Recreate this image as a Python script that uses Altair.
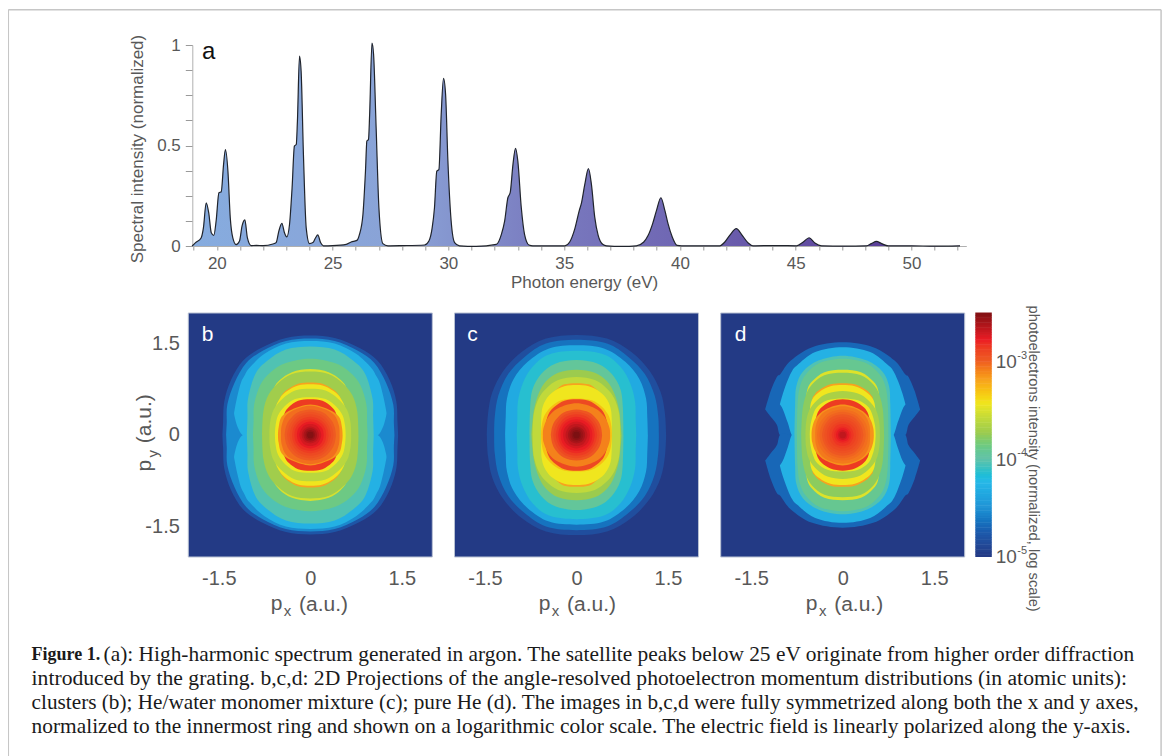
import altair as alt
import pandas as pd

# ---------- panel a: spectrum ----------
EV = [18.93,19.08,19.32,19.42,19.54,19.65,19.76,19.87,19.97,20.09,20.19,20.29,20.37,20.48,20.58,20.69,20.83,20.98,21.09,21.21,21.32,21.48,21.7,22.0,22.42,22.56,22.68,22.81,22.92,23.02,23.14,23.25,23.35,23.43,23.48,23.57,23.64,23.74,23.86,24.0,24.15,24.26,24.36,24.48,24.6,25.0,25.59,25.8,26.05,26.16,26.31,26.42,26.48,26.55,26.6,26.7,26.77,26.88,27.0,27.17,27.39,28.0,28.97,29.16,29.3,29.4,29.5,29.59,29.69,29.79,29.88,29.98,30.12,30.27,30.48,31.2,32.07,32.29,32.43,32.57,32.67,32.79,32.9,33.0,33.15,33.29,33.48,33.65,34.3,35.03,35.24,35.46,35.65,35.75,35.89,36.05,36.18,36.32,36.47,36.68,36.83,37.5,38.12,38.44,38.63,38.82,38.99,39.18,39.35,39.49,39.67,39.88,40.07,41.0,41.72,41.94,42.15,42.44,42.66,42.95,43.16,44.1,45.04,45.33,45.58,45.83,46.12,47.1,48.06,48.27,48.49,48.71,49.0,50.0,51.0,52.1]
INT = [0,.017,.04,.09,.215,.165,.066,.053,.125,.265,.27,.405,.48,.37,.14,.04,.007,.025,.1,.13,.04,.002,.003,.002,.01,.017,.075,.113,.066,.045,.108,.29,.497,.505,.62,.945,.87,.455,.09,.012,.017,.04,.055,.017,.001,.002,.008,.02,.028,.058,.157,.373,.522,.53,.655,1.01,.953,.589,.19,.012,.001,.002,.005,.025,.09,.19,.373,.38,.655,.834,.755,.423,.124,.017,.001,-.002,.008,.058,.124,.24,.265,.406,.486,.423,.19,.058,.005,.001,.001,.001,.02,.085,.175,.215,.305,.385,.305,.145,.053,.007,.001,-.002,.001,.02,.053,.11,.177,.24,.177,.11,.045,.003,.001,.001,.001,.02,.053,.086,.058,.015,.001,.002,.001,.02,.041,.015,.001,-.001,.001,.012,.023,.012,.001,.001,-.001,.001]
EV_TICKS = list(range(19, 53))
INT_TICKS = [0,.125,.25,.375,.5,.625,.75,.875,1]

# ---------- colour scale (log10 intensity) ----------
CB_LEVELS = [-5,-4.75,-4.5,-4.24,-4.0,-3.74,-3.44,-3.2,-3.0,-2.79,-2.5]
CB_COLORS = ["#233a85","#1b5cae","#2295d6","#29b9e8","#64c2a6","#9ccb4e","#f0e61e","#f7a31e","#ee5b22","#ec1c24","#7c1012"]
CB_BINS = [-5+i*0.025 for i in range(100)]
CB_EXP = [-5,-4,-3]

# ---------- panels b, c, d: contours, outermost first ----------
BACK = [(0,2.0),(2.0,2.0)]
R42 = [(0,.42),(.21,.37),(.34,.25),(.4,.13),(.42,0)]
R38 = [(0,.38),(.19,.33),(.3,.23),(.36,.11),(.38,0)]
R34 = [(0,.34),(.17,.3),(.27,.2),(.32,.1),(.34,0)]
R30 = [(0,.3),(.15,.26),(.24,.18),(.285,.09),(.3,0)]
R26 = [(0,.26),(.13,.23),(.21,.16),(.25,.08),(.26,0)]
R22 = [(0,.22),(.11,.19),(.18,.13),(.21,.07),(.22,0)]
R18 = [(0,.18),(.09,.16),(.14,.11),(.17,.05),(.18,0)]
R14 = [(0,.14),(.07,.12),(.11,.085),(.135,.04),(.14,0)]
R11 = [(0,.11),(.06,.095),(.09,.066),(.105,.033),(.11,0)]
R08 = [(0,.08),(.04,.07),(.065,.048),(.08,0)]
R05 = [(0,.055),(.03,.048),(.045,.033),(.055,0)]

PANEL_B = [
 (-5,BACK),
 (-4.8,[(0,1.63),(.4,1.59),(.8,1.43),(1.1,1.22),(1.3,.9),(1.41,.55),(1.43,.2),(1.44,0)]),
 (-4.55,[(0,1.58),(.4,1.54),(.78,1.38),(1.05,1.18),(1.24,.86),(1.36,.5),(1.37,.2),(1.38,0)]),
 (-4.3,[(0,1.54),(.4,1.5),(.75,1.33),(1.0,1.1,0),(1.08,.97,0),(1.14,.85,.03),(1.2,.62,.15),(1.24,.42,.3),(1.25,.36,.36)]),
 (-4.05,[(0,1.45),(.4,1.4),(.7,1.22),(.9,1.0),(1.02,.6),(1.03,.3),(1.04,0)]),
 (-3.88,[(0,1.25),(.4,1.18),(.65,1.03),(.82,.82),(.92,.5),(.93,.2),(.94,0)]),
 (-3.52,[(0,1.08),(.3,1.03),(.5,.9),(.6,.76),(.66,.5),(.67,0)]),
 (-3.72,[(0,1.04),(.3,1.0),(.53,.85),(.69,.65),(.77,.38),(.79,0)]),
 (-3.2,[(0,.86),(.2,.84),(.38,.74),(.46,.66),(.5,.55),(.51,0)]),
 (-3.44,[(0,.83),(.2,.81),(.38,.72),(.5,.6),(.58,.4),(.6,0)]),
 (-3.62,[(0,.76),(.25,.73),(.45,.6),(.6,.42),(.66,.2),(.67,0)]),
 (-3.44,[(0,.62),(.25,.59),(.42,.47),(.53,.32),(.57,.15),(.58,0)]),
 (-2.87,[(0,.585),(.2,.56),(.35,.46),(.42,.36),(.45,.2),(.46,0)]),
 (-3.15,[(0,.5),(.3,.42),(.47,.3),(.52,.12),(.53,0)]),
 (-3.05,[(0,.48),(.25,.42),(.4,.32),(.47,.15),(.48,0)]),
 (-3.0,R42),(-2.96,R38),(-2.92,R34),(-2.875,R30),(-2.83,R26),(-2.78,R22),(-2.73,R18),(-2.68,R14),(-2.62,R11),(-2.57,R08),(-2.52,R05),
]
PANEL_C = [
 (-5,BACK),
 (-4.85,[(0,1.64),(.5,1.58),(.9,1.36),(1.2,1.05),(1.38,.7),(1.45,.35),(1.47,0)]),
 (-4.65,[(0,1.56),(.5,1.5),(.85,1.28),(1.12,1.0),(1.28,.65),(1.34,.3),(1.35,0)]),
 (-4.35,[(0,1.47),(.45,1.42),(.8,1.2),(1.03,.92),(1.14,.6),(1.16,.3),(1.17,0)]),
 (-4.15,[(0,1.38),(.45,1.32),(.72,1.12),(.88,.85),(.96,.55),(.97,.25),(.98,0)]),
 (-3.95,[(0,1.23),(.35,1.17),(.58,1.0),(.72,.75),(.76,.45),(.77,0)]),
 (-3.74,[(0,1.07),(.3,1.02),(.5,.88),(.62,.68),(.7,.4),(.74,0)]),
 (-3.6,[(0,.95),(.3,.9),(.5,.76),(.62,.6),(.7,.35),(.72,0)]),
 (-3.2,[(0,.85),(.2,.83),(.3,.77),(.36,.7),(.4,.55),(.41,0)]),
 (-3.44,[(0,.82),(.2,.8),(.38,.71),(.5,.58),(.57,.38),(.58,0)]),
 (-3.3,[(0,.6),(.25,.57),(.42,.46),(.53,.31),(.57,.15),(.58,0)]),
 (-2.92,[(0,.585),(.2,.56),(.35,.47),(.45,.36),(.5,.2),(.51,0)]),
 (-3.1,[(0,.52),(.3,.44),(.46,.3),(.54,.12),(.55,0)]),
 (-2.97,R42),(-2.92,R38),(-2.87,R34),(-2.82,R30),(-2.78,R26),(-2.73,R22),(-2.68,R18),(-2.62,R14),(-2.58,R11),(-2.54,R08),(-2.5,R05),
]
PANEL_D = [
 (-5,BACK),
 (-4.7,[(0,1.52),(.5,1.44),(.85,1.22),(1.02,1.0),(1.08,.95,.17),(1.18,.72,.3),(1.27,.42,.42)]),
 (-4.3,[(0,1.44),(.45,1.36),(.75,1.14),(.83,1.05),(.9,.9,.2),(.98,.68,.42),(1.03,.5,.5)]),
 (-4.05,[(0,1.3),(.4,1.22),(.65,1.04),(.76,.8),(.78,.5),(.79,0)]),
 (-3.92,[(0,1.25),(.38,1.18),(.6,1.0),(.7,.8),(.74,.5),(.75,0)]),
 (-3.5,[(0,1.07),(.3,1.03),(.5,.88),(.58,.74),(.6,.5),(.61,0)]),
 (-3.78,[(0,1.02),(.3,.98),(.5,.83),(.6,.66),(.66,.4),(.68,0)]),
 (-3.2,[(0,.85),(.2,.83),(.38,.74),(.46,.66),(.5,.55),(.51,0)]),
 (-3.44,[(0,.82),(.2,.8),(.38,.71),(.5,.58),(.54,.38),(.55,0)]),
 (-3.68,[(0,.72),(.25,.68),(.42,.57),(.55,.4),(.6,.2),(.61,0)]),
 (-3.44,[(0,.6),(.25,.57),(.42,.46),(.49,.32),(.53,.15),(.54,0)]),
 (-2.87,[(0,.585),(.2,.55),(.35,.45),(.42,.34),(.45,.18),(.46,0)]),
 (-3.15,[(0,.5),(.28,.42),(.44,.28),(.5,.12),(.51,0)]),
 (-3.08,[(0,.47),(.25,.41),(.38,.3),(.44,.15),(.45,0)]),
 (-3.05,R42),(-3.02,R38),(-2.98,R34),(-2.95,R30),(-2.92,R26),(-2.89,R22),(-2.85,R18),(-2.82,R14),(-2.78,R11),(-2.73,R08),(-2.68,R05),
]

CAP_BOLD = "Figure 1."
CAP_L1 = "(a): High-harmonic spectrum generated in argon. The satellite peaks below 25 eV originate from higher order diffraction"
CAP_L2 = "introduced by the grating. b,c,d: 2D Projections of the angle-resolved photoelectron momentum distributions (in atomic units):"
CAP_L3 = "clusters (b); He/water monomer mixture (c); pure He (d). The images in b,c,d were fully symmetrized along both the x and y axes,"
CAP_L4 = "normalized to the innermost ring and shown on a logarithmic color scale. The electric field is linearly polarized along the y-axis."

SANS = "Liberation Sans"
GREY = "#585858"
ONE = pd.DataFrame({"k": [0]})
cscale = alt.Scale(domain=CB_LEVELS, range=CB_COLORS, clamp=True)

A_ORG = (192.7, 44.0)
B_ORG = (188.7, 312.3)
C_ORG = (455.0, 312.3)
D_ORG = (721.0, 312.3)
CB_ORG = (977.0, 312.3)


def text(org, s, px, py, size=17, color=GREY, font=SANS, angle=0, align="center", weight="normal"):
    m = alt.Chart(ONE).mark_text(text=s, font=font, fontSize=size, color=color, angle=angle,
                                 align=align, baseline="middle", fontWeight=weight)
    return m.encode(x=alt.value(px - org[0]), y=alt.value(py - org[1]))


def contour_rows(contours):
    rows = []
    for i, (val, pts) in enumerate(contours):
        pts = [(p[0], p[1], p[2] if len(p) > 2 else 0) for p in pts]
        split = any(p[2] > 0 for p in pts)
        full = [(-x, a, b) for x, a, b in reversed(pts) if x > 0] + pts
        if split:
            for x, a, b in full:
                b2 = b if b > 0 else -0.01
                rows.append(dict(cid=f"c{i:03d}u", v=val, x=x, y=a, y2=b2))
            for x, a, b in full:
                b2 = b if b > 0 else -0.01
                rows.append(dict(cid=f"c{i:03d}l", v=val, x=x, y=-a, y2=-b2))
        else:
            for x, a, b in full:
                rows.append(dict(cid=f"c{i:03d}", v=val, x=x, y=a, y2=-a))
    return pd.DataFrame(rows)


LABELS = "datum.value == 0 ? '0' : (datum.value < 0 ? '-1.5' : '1.5')"


def heat(contours, show_y):
    y_axis = alt.Axis(values=[-1.5, 0, 1.5], labelExpr=LABELS, title=None, domain=False, ticks=False,
                      grid=False, labelFontSize=20, labelFont=SANS, labelColor=GREY, labelPadding=9) if show_y else None
    x_axis = alt.Axis(values=[-1.5, 0, 1.5], labelExpr=LABELS, title=None, domain=False, ticks=False,
                      grid=False, labelFontSize=20, labelFont=SANS, labelColor=GREY, labelPadding=12, labelAngle=0)
    return alt.Chart(contour_rows(contours)).mark_area(interpolate="cardinal").encode(
        x=alt.X("x:Q", scale=alt.Scale(domain=[-2, 2], nice=False), axis=x_axis),
        y=alt.Y("y:Q", scale=alt.Scale(domain=[-2, 2], nice=False), axis=y_axis, stack=None),
        y2="y2:Q",
        detail="cid:N",
        color=alt.Color("v:Q", scale=cscale, legend=None),
    )


def edge():
    return alt.Chart(ONE).mark_rect(filled=False, stroke="#b9c1d3", strokeWidth=1).encode(
        x=alt.value(0), x2=alt.value(244), y=alt.value(0), y2=alt.value(244))


def px_title(org, cx):
    return [text(org, "p", cx - 32, 603, 21), text(org, "x", cx - 21, 610, 15),
            text(org, "(a.u.)", cx + 15, 604, 21)]


# panel a
spec = pd.DataFrame({"ev": EV, "i": INT})
xa_axis = alt.Axis(values=EV_TICKS, labelExpr="datum.value % 5 == 0 ? datum.label : ''", title=None, grid=False,
                   tickSize=4, tickColor="#9a9a9a", domainColor="#b0b0b0", labelFontSize=17, labelFont=SANS,
                   labelColor=GREY, labelPadding=5, labelOverlap=False, labelAngle=0)
ya_axis = alt.Axis(values=INT_TICKS, labelExpr="datum.value == 0 ? '0' : (datum.value == 0.5 ? '0.5' : (datum.value == 1 ? '1' : ''))",
                   title=None, grid=False, tickSize=7, tickColor="#9a9a9a", domainColor="#b0b0b0", labelFontSize=17,
                   labelFont=SANS, labelColor=GREY, labelPadding=5, labelOverlap=False)
xa = alt.X("ev:Q", scale=alt.Scale(domain=[18.94, 52.37], nice=False), axis=xa_axis)
ya = alt.Y("i:Q", scale=alt.Scale(domain=[0, 1], nice=False), axis=ya_axis, stack=None)
grad = alt.Gradient(gradient="linear", x1=0, x2=1, y1=0, y2=0,
                    stops=[alt.GradientStop(color="#86acdf", offset=0), alt.GradientStop(color="#8aa2d6", offset=0.28),
                           alt.GradientStop(color="#7a7cc0", offset=0.45), alt.GradientStop(color="#7068b4", offset=0.62),
                           alt.GradientStop(color="#5a3f98", offset=0.9), alt.GradientStop(color="#553a90", offset=1)])
panel_a = alt.layer(
    alt.Chart(spec).mark_area(color=grad, interpolate="monotone").encode(x=xa, y=ya),
    alt.Chart(spec).mark_line(color="#20242c", strokeWidth=1.2, interpolate="monotone").encode(x=xa, y=ya),
    text(A_ORG, "a", 209, 51, 24, "#111111"),
    text(A_ORG, "Spectral intensity (normalized)", 138, 148, 17, angle=270),
    text(A_ORG, "Photon energy (eV)", 585, 282, 17),
).properties(width=774, height=201)

FRAME_R = 1161.5
frame = [
    alt.Chart(ONE).mark_rule(color="#c6c6c6", strokeWidth=1.5).encode(x=alt.value(8.7 - B_ORG[0]), y=alt.value(9 - B_ORG[1]), y2=alt.value(770 - B_ORG[1])),
    alt.Chart(ONE).mark_rule(color="#c6c6c6", strokeWidth=1.5).encode(x=alt.value(FRAME_R - B_ORG[0]), y=alt.value(9 - B_ORG[1]), y2=alt.value(770 - B_ORG[1])),
    alt.Chart(ONE).mark_rule(color="#c6c6c6", strokeWidth=1.5).encode(x=alt.value(8.7 - B_ORG[0]), x2=alt.value(FRAME_R - B_ORG[0]), y=alt.value(9 - B_ORG[1])),
]
SERIF = "Liberation Serif"
caption = [
    text(B_ORG, CAP_BOLD, 32, 654, 18, "#1a1a1a", SERIF, align="left", weight="bold"),
    text(B_ORG, CAP_L1, 104, 654, 21.4, "#1a1a1a", SERIF, align="left"),
    text(B_ORG, CAP_L2, 32, 678, 21.65, "#1a1a1a", SERIF, align="left"),
    text(B_ORG, CAP_L3, 32, 702, 21.25, "#1a1a1a", SERIF, align="left"),
    text(B_ORG, CAP_L4, 32, 726, 21.4, "#1a1a1a", SERIF, align="left"),
]
py_title = [
    text(B_ORG, "p", 145, 465, 21, angle=270),
    text(B_ORG, "y", 153, 453, 15, angle=270),
    text(B_ORG, "(a.u.)", 145, 418, 21, angle=270),
]
panel_b = alt.layer(heat(PANEL_B, True), edge(), text(B_ORG, "b", 208, 334, 21, "#ffffff"),
                    *px_title(B_ORG, 309), *py_title, *frame, *caption).properties(width=244, height=244)
panel_c = alt.layer(heat(PANEL_C, False), edge(), text(C_ORG, "c", 473, 334, 21, "#ffffff"),
                    *px_title(C_ORG, 577)).properties(width=244, height=244)
panel_d = alt.layer(heat(PANEL_D, False), edge(), text(D_ORG, "d", 741, 334, 21, "#ffffff"),
                    *px_title(D_ORG, 844)).properties(width=244, height=244)

cb_df = pd.DataFrame({"v": CB_BINS, "v2": [b + 0.03 for b in CB_BINS]})
exp_df = pd.DataFrame({"v": CB_EXP, "t": [str(e) for e in CB_EXP]})
cb_y = alt.Y("v:Q", scale=alt.Scale(domain=[-5, -2.5], nice=False),
             axis=alt.Axis(orient="right", values=CB_EXP, labelExpr="'10'", title=None, domain=False, ticks=False, grid=False,
                           labelFontSize=19, labelFont=SANS, labelColor=GREY, labelPadding=4))
colorbar = alt.layer(
    alt.Chart(cb_df).mark_rect().encode(x=alt.value(0), x2=alt.value(16.5), y=cb_y, y2="v2:Q",
                                        color=alt.Color("v:Q", scale=cscale, legend=None)),
    alt.Chart(exp_df).mark_text(font=SANS, fontSize=11, color=GREY, align="left", dy=-6).encode(
        x=alt.value(42), y=alt.Y("v:Q"), text="t:N"),
    text(CB_ORG, "photoelectrons intensity (normalized, log scale)", 1035, 458, 14.7, angle=90),
).properties(width=16, height=244)


def spacer(w, h):
    return alt.Chart(ONE).mark_point(opacity=0).encode(x=alt.value(0)).properties(width=w, height=h)


top_row = alt.hconcat(spacer(4, 201), panel_a, spacing=0, bounds="flush")
bottom_row = alt.hconcat(panel_b, spacer(1, 244), panel_c, spacer(1, 244), panel_d, colorbar, spacing=10.6, bounds="flush")
chart = alt.vconcat(top_row, bottom_row, spacing=268, bounds="flush").properties(
    padding={"left": -0.7, "top": 0, "right": 0, "bottom": 0}, background="#ffffff").configure_view(stroke=None)
chart.save("out.html", embed_options={"renderer": "svg", "actions": False})
